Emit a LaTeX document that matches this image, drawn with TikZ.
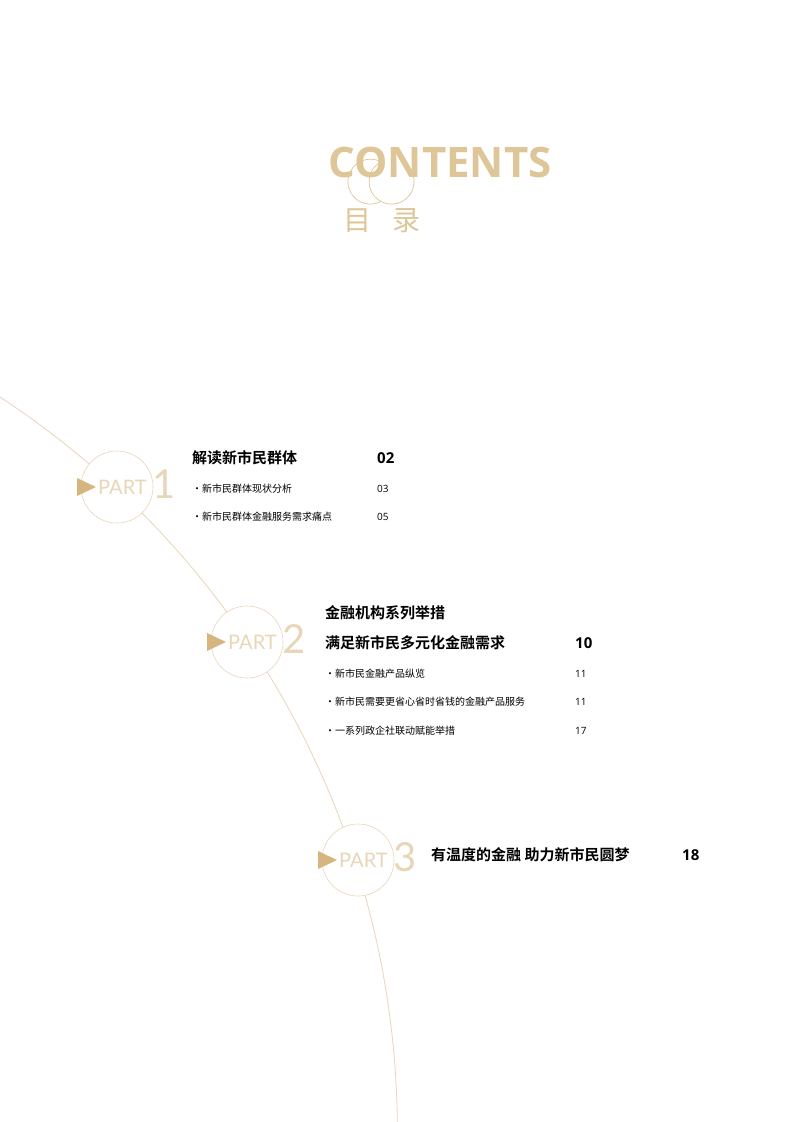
\documentclass[tikz,border=0pt]{standalone}
\usepackage{fontspec}
\setmainfont{Open Sans}
\newfontfamily\cjk{Noto Sans CJK SC}
\newfontfamily\cjkb{Noto Sans CJK SC Bold}
\newfontfamily\partf{Lato}
\definecolor{gold}{RGB}{214,182,128}
\definecolor{lgold}{RGB}{232,214,184}
\definecolor{tgold}{RGB}{222,198,152}
\begin{document}
\begin{tikzpicture}[x=1pt,y=-1pt,
  head/.style={anchor=west,font=\cjkb\fontsize{15}{15}\selectfont,inner sep=0},
  num/.style={anchor=west,font=\bfseries\fontsize{15}{15}\selectfont,inner sep=0},
  sub/.style={anchor=west,font=\cjk\fontsize{10}{10}\selectfont,inner sep=0},
  subn/.style={anchor=west,font=\fontsize{10}{10}\selectfont,inner sep=0},
  pc/.style={circle,draw=lgold,fill=white,line width=0.6pt,minimum size=72pt},
  pt/.style={font=\partf\fontsize{20}{20}\selectfont,text=lgold,anchor=west,inner sep=0},
  pd/.style={font=\partf\fontsize{40}{40}\selectfont,text=lgold,anchor=west,inner sep=0}]
\useasboundingbox (0,0) rectangle (793,1122);
\fill[white] (0,0) rectangle (793,1122);
% big arc
\begin{scope}
\clip (0,0) rectangle (793,1122);
\draw[lgold,line width=0.8pt] (-481.6,1132.5) circle[radius=879];
\end{scope}
% CONTENTS
\node[font=\bfseries\fontsize{42}{42}\selectfont,text=tgold,inner sep=0] (ct) at (440,162) {CONTENTS};
\draw[tgold,line width=0.7pt] (381,201.5) arc[start angle=62,end angle=298,radius=22.5]
  arc[start angle=242,end angle=-62,radius=22.5];
\node[font=\cjk\fontsize{28}{28}\selectfont,text=tgold] (mu) at (357,221) {目};
\node[font=\cjk\fontsize{28}{28}\selectfont,text=tgold] (lu) at (406,221) {录};
% part circles
\foreach \n/\x/\y/\d in {1/117/487/1, 2/247/642/2, 3/358/860/3}{
  \node[pc] (c\n) at (\x,\y) {};
  \fill[gold] (\x-40,\y-9) -- (\x-21,\y) -- (\x-40,\y+9) -- cycle;
  \node[pt] (p\n) at (\x-19,\y) {PART};
  \node[pd] (d\n) at (\x+35,\y-3) {\d};
}
% part 1
\node[head] (h1) at (192,458) {解读新市民群体};
\node[num] (n1) at (377,458) {02};
\node[sub] (s11) at (192,489) {·新市民群体现状分析};
\node[subn] (m11) at (377,489) {03};
\node[sub] (s12) at (192,517) {·新市民群体金融服务需求痛点};
\node[subn] (m12) at (377,517) {05};
% part 2
\node[head] (h2a) at (325,613) {金融机构系列举措};
\node[head] (h2) at (325,643) {满足新市民多元化金融需求};
\node[num] (n2) at (575,643) {10};
\node[sub] (s21) at (325,674) {·新市民金融产品纵览};
\node[subn] (m21) at (575,674) {11};
\node[sub] (s22) at (325,702) {·新市民需要更省心省时省钱的金融产品服务};
\node[subn] (m22) at (575,702) {11};
\node[sub] (s23) at (325,731) {·一系列政企社联动赋能举措};
\node[subn] (m23) at (575,731) {17};
% part 3
\node[head] (h3) at (431,855) {有温度的金融\ 助力新市民圆梦};
\node[num] (n3) at (682,855) {18};
\end{tikzpicture}
\end{document}
